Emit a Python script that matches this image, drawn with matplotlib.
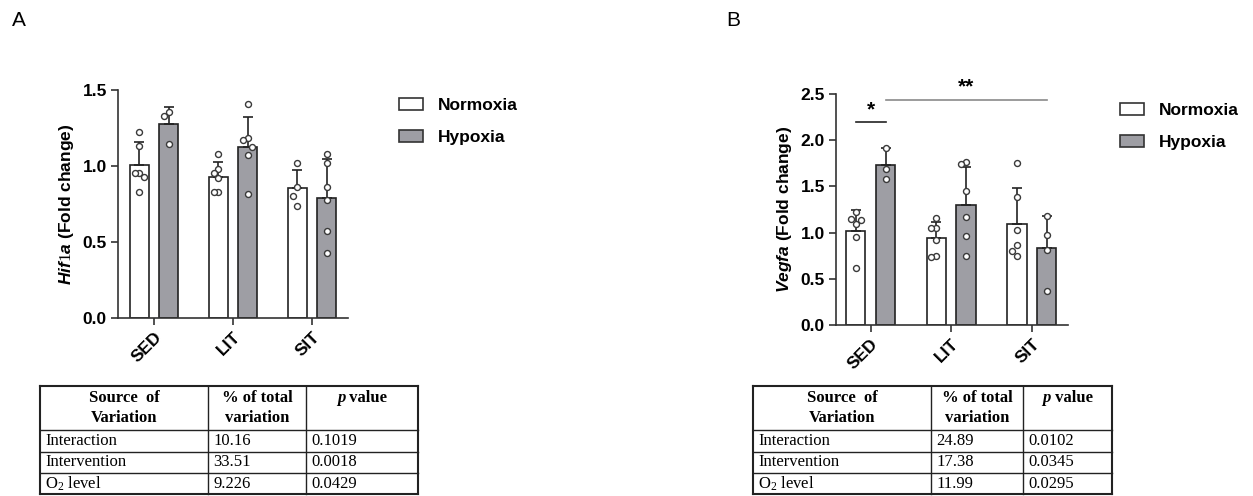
"""
Hif1a / Vegfa fold change bar charts with two-way ANOVA tables
"""

import matplotlib
matplotlib.use('Agg')
import matplotlib.pyplot as plt
from matplotlib.patches import Patch
import numpy as np

matplotlib.rcParams['font.family'] = ['Liberation Sans', 'DejaVu Sans']
matplotlib.rcParams['mathtext.fontset'] = 'custom'
matplotlib.rcParams['mathtext.rm'] = 'Liberation Serif'
matplotlib.rcParams['mathtext.it'] = 'Liberation Sans:italic:bold'

# ---- data ----
groups = ['SED', 'LIT', 'SIT']
conditions = ['Normoxia', 'Hypoxia']

hif1a_norm_mean = [1.006, 0.927, 0.852]
hif1a_norm_sd = [0.149, 0.097, 0.123]
hif1a_hyp_mean = [1.274, 1.127, 0.791]
hif1a_hyp_sd = [0.112, 0.193, 0.252]
hif1a_norm_pts = [[1.226, 1.131, 0.955, 0.955, 0.929, 0.826],
                  [1.078, 0.980, 0.951, 0.918, 0.826, 0.826],
                  [1.017, 0.863, 0.804, 0.734]]
hif1a_hyp_pts = [[1.353, 1.331, 1.146],
                 [1.406, 1.186, 1.171, 1.127, 1.074, 0.815],
                 [1.078, 1.017, 0.865, 0.775, 0.575, 0.430]]

vegfa_norm_mean = [1.019, 0.940, 1.088]
vegfa_norm_sd = [0.227, 0.180, 0.400]
vegfa_hyp_mean = [1.729, 1.300, 0.829]
vegfa_hyp_sd = [0.184, 0.415, 0.353]
vegfa_norm_pts = [[1.225, 1.149, 1.131, 1.095, 0.955, 0.612],
                  [1.156, 1.052, 1.052, 0.915, 0.749, 0.731],
                  [1.751, 1.380, 1.027, 0.868, 0.796, 0.749]]
vegfa_hyp_pts = [[1.913, 1.693, 1.581],
                 [1.765, 1.740, 1.455, 1.167, 0.958, 0.749],
                 [1.182, 0.973, 0.811, 0.367]]

# significance: (group, condition index) pairs, label, bar height
vegfa_sig = [((0, 0), (0, 1), '*', 2.20),
             ((0, 1), (2, 1), '**', 2.44)]

table_header = ['Source  of\nVariation', '% of total\nvariation']
table_rows = ['Interaction', 'Intervention', 'O$_2$ level']
hif1a_pct = ['10.16', '33.51', '9.226']
hif1a_p = ['0.1019', '0.0018', '0.0429']
vegfa_pct = ['24.89', '17.38', '11.99']
vegfa_p = ['0.0102', '0.0345', '0.0295']

# ---- style ----
W, H = 1253, 496
HYP_COLOR = '#9e9ea4'
EDGE = '#222222'
OFFSET = 0.185
BAR_W = 0.24


def spread(values, thr, step=0.06):
    """Simple column scatter: shift points sideways when they overlap."""
    slots = [0, -1, 1, -2, 2, -3, 3]
    placed = []
    xs = []
    for v in values:
        for s in slots:
            if all(not (ps == s and abs(pv - v) < thr) for ps, pv in placed):
                placed.append((s, v))
                xs.append(s * step)
                break
    return np.array(xs)


def draw_panel(ax, n_mean, n_sd, n_pts, h_mean, h_sd, h_pts, ymax, gene, xlim):
    x = np.arange(len(groups))
    series = [(n_mean, n_sd, n_pts, 'white', -OFFSET),
              (h_mean, h_sd, h_pts, HYP_COLOR, OFFSET)]
    for mean, sd, pts, fc, off in series:
        ax.bar(x + off, mean, BAR_W, color=fc, edgecolor=EDGE, linewidth=1.2, zorder=2)
        ax.errorbar(x + off, mean, yerr=[np.zeros(len(mean)), sd], fmt='none',
                    ecolor=EDGE, elinewidth=1.2, capsize=3.5, capthick=1.2, zorder=3)
        for i, vals in enumerate(pts):
            jit = spread(vals, thr=0.04 * ymax)
            ax.plot(x[i] + off + jit, vals, 'o', mfc='white', mec='#3a3a3a',
                    ms=4.3, mew=1.0, zorder=4, clip_on=False)

    ax.set_xlim(*xlim)
    ax.set_ylim(0, ymax)
    yt = np.arange(0, ymax + 0.01, 0.5)
    ax.set_yticks(yt)
    ax.set_yticklabels([f'{v:.1f}' for v in yt], fontweight='bold', fontsize=12.5)
    ax.set_xticks(x)
    ax.set_xticklabels(groups, rotation=45, ha='right', rotation_mode='anchor',
                       fontweight='bold', fontsize=12.5)
    ax.set_ylabel(r'$\it{' + gene + r'}$ (Fold change)', fontweight='bold',
                  fontsize=12.5, labelpad=5)
    for s in ['top', 'right']:
        ax.spines[s].set_visible(False)
    for s in ['left', 'bottom']:
        ax.spines[s].set_linewidth(1.2)
        ax.spines[s].set_color('#333333')
    ax.tick_params(direction='out', length=5, width=1.2, color='#333333', pad=3)
    return x


def draw_table(ov, xs, pct, pv, renderer):
    top, hdr = 386, 430
    lines = [430, 452, 473, 494]
    bottom = lines[-1]
    for y in [top] + lines:
        lw = 1.5 if y in (top, bottom) else 1.0
        ov.plot([xs[0], xs[-1]], [y, y], color=EDGE, lw=lw)
    for i, xv in enumerate(xs):
        lw = 1.5 if i in (0, len(xs) - 1) else 1.0
        ov.plot([xv, xv], [top, bottom], color=EDGE, lw=lw)

    serif = 'Liberation Serif'
    for c, head in enumerate(table_header):
        cx = (xs[c] + xs[c + 1]) / 2
        ov.text(cx, (top + hdr) / 2, head, ha='center', va='center', family=serif,
                fontweight='bold', fontsize=12, linespacing=1.3)

    # "p value" with italic p, centred in the last column
    cx = (xs[2] + xs[3]) / 2
    tp = ov.text(cx, 398, 'p', ha='left', va='center', family=serif,
                 fontweight='bold', style='italic', fontsize=12)
    tv = ov.text(cx, 398, ' value', ha='left', va='center', family=serif,
                 fontweight='bold', fontsize=12)
    wp = tp.get_window_extent(renderer).width
    wv = tv.get_window_extent(renderer).width
    x0 = cx - (wp + wv) / 2
    tp.set_x(x0)
    tv.set_x(x0 + wp)

    for r in range(len(table_rows)):
        cy = (lines[r] + lines[r + 1]) / 2
        for c, txt in enumerate([table_rows[r], pct[r], pv[r]]):
            ov.text(xs[c] + 5, cy, txt, ha='left', va='center', family=serif,
                    fontsize=12)


fig = plt.figure(figsize=(W / 100, H / 100), dpi=100)
renderer = fig.canvas.get_renderer()

# panel A
axA = fig.add_axes([118 / W, (H - 318) / H, 230 / W, 228 / H])
draw_panel(axA, hif1a_norm_mean, hif1a_norm_sd, hif1a_norm_pts,
           hif1a_hyp_mean, hif1a_hyp_sd, hif1a_hyp_pts, 1.5, 'Hif1a', (-0.456, 2.456))

# panel B
axB = fig.add_axes([836 / W, (H - 325) / H, 232 / W, 231 / H])
xB = draw_panel(axB, vegfa_norm_mean, vegfa_norm_sd, vegfa_norm_pts,
                vegfa_hyp_mean, vegfa_hyp_sd, vegfa_hyp_pts, 2.5, 'Vegfa', (-0.43, 2.45))
offs = [-OFFSET, OFFSET]
for (g1, c1), (g2, c2), label, y in vegfa_sig:
    x1 = xB[g1] + offs[c1]
    x2 = xB[g2] + offs[c2]
    col = '#222222' if label == '*' else '#8a8a8a'
    axB.plot([x1, x2], [y, y], color=col, lw=1.2, clip_on=False)
    axB.text((x1 + x2) / 2, y + 0.03, label, ha='center', va='bottom',
             fontweight='bold', fontsize=15, clip_on=False)

# overlay for tables
ov = fig.add_axes([0, 0, 1, 1], zorder=-1)
ov.set_xlim(0, W)
ov.set_ylim(H, 0)
ov.axis('off')
draw_table(ov, [40, 208, 306, 418], hif1a_pct, hif1a_p, renderer)
draw_table(ov, [753, 931, 1023, 1112], vegfa_pct, vegfa_p, renderer)

# panel letters
fig.text(19 / W, 1 - 20 / H, 'A', ha='center', va='center', fontsize=15)
fig.text(733 / W, 1 - 20 / H, 'B', ha='center', va='center', fontsize=15)

# legends
handles = [Patch(facecolor='white', edgecolor='#333333', linewidth=1.2),
           Patch(facecolor=HYP_COLOR, edgecolor='#333333', linewidth=1.2)]
for lx, ly in [(399, 98), (1120, 103)]:
    fig.legend(handles, conditions, loc='upper left',
               bbox_to_anchor=(lx / W, 1 - ly / H), frameon=False,
               prop={'weight': 'bold', 'size': 12.5}, handlelength=1.4,
               handleheight=0.7, handletextpad=0.85, labelspacing=0.95,
               borderpad=0, borderaxespad=0)

fig.savefig('out.png', dpi=100, facecolor='white')
